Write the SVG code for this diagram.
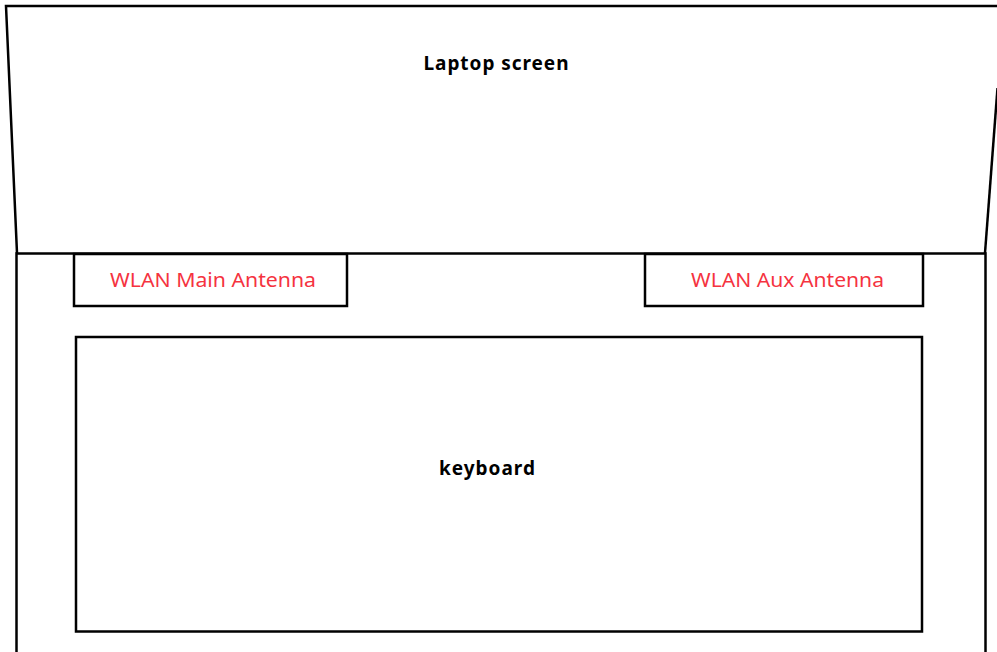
<svg xmlns="http://www.w3.org/2000/svg" width="997" height="652" viewBox="0 0 997 652">
<style>
.ln{fill:none;stroke:#000;stroke-width:2.5}
.bx{fill:#fff;stroke:#000;stroke-width:2.5}
.t{font-family:"Noto Sans","Open Sans",sans-serif;font-weight:bold;font-size:19px;fill:#000;text-anchor:middle}
.r{font-family:"Noto Sans","Open Sans",sans-serif;font-size:20px;fill:#f5333f;text-anchor:middle}
</style>
<rect width="997" height="652" fill="#fff"/>
<g id="screen">
<polyline class="ln" points="17,253 6,6 1002,6"/>
<line class="ln" x1="997.5" y1="88" x2="985" y2="253"/>
<text class="t" x="496" y="70" textLength="145">Laptop screen</text>
</g>
<g id="base">
<rect class="ln" x="16.5" y="253.5" width="969" height="410"/>
</g>
<g id="main-antenna">
<rect class="bx" x="74" y="254" width="273" height="52"/>
<text class="r" x="213" y="287" textLength="206" lengthAdjust="spacingAndGlyphs">WLAN Main Antenna</text>
</g>
<g id="aux-antenna">
<rect class="bx" x="645" y="254" width="278" height="52"/>
<text class="r" x="787.5" y="287" textLength="193" lengthAdjust="spacingAndGlyphs">WLAN Aux Antenna</text>
</g>
<g id="keyboard">
<rect class="bx" x="76" y="337" width="846" height="294.5"/>
<text class="t" x="487" y="475" textLength="96">keyboard</text>
</g>
</svg>
